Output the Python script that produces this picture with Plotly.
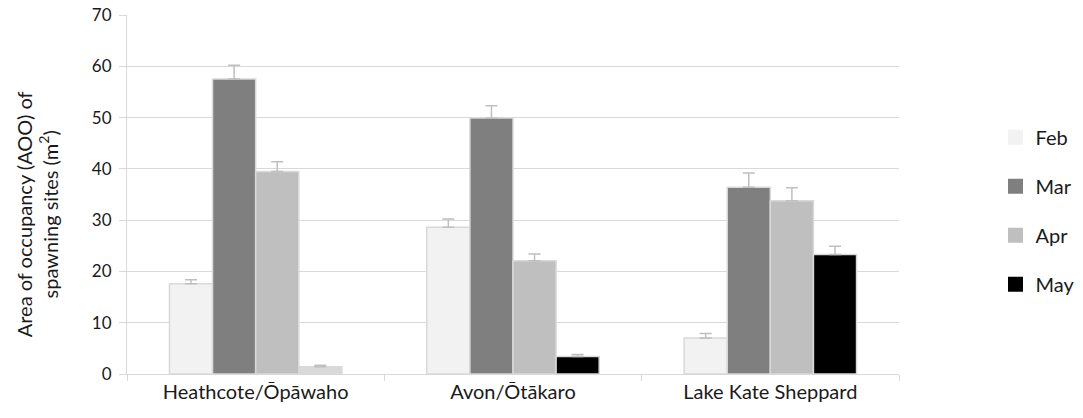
import plotly.graph_objects as go

# Sites and monthly area of occupancy of spawning sites (m²), with +SE
sites = ["Heathcote/Ōpāwaho", "Avon/Ōtākaro", "Lake Kate Sheppard"]
months = ["Feb", "Mar", "Apr", "May"]

feb = [17.6, 28.6, 7.0]
mar = [57.5, 49.9, 36.4]
apr = [39.5, 22.1, 33.8]
may = [1.4, 3.4, 23.3]

feb_err = [0.8, 1.6, 0.9]
mar_err = [2.7, 2.4, 2.8]
apr_err = [1.9, 1.3, 2.5]
may_err = [0.3, 0.4, 1.6]

y_ticks = [0, 10, 20, 30, 40, 50, 60, 70]

series = [feb, mar, apr, may]
errors = [feb_err, mar_err, apr_err, may_err]
legend_fills = ["#F2F2F2", "#7F7F7F", "#BFBFBF", "#000000"]
# the very short Heathcote May bar renders as its outline colour
bar_fills = ["#F2F2F2", "#7F7F7F", "#BFBFBF", ["#D9D9D9", "#000000", "#000000"]]

FONT = "Lato"
GRID = "#D9D9D9"
TEXT = "#1a1a1a"

fig = go.Figure()
for name, vals, errs, fill in zip(months, series, errors, bar_fills):
    fig.add_trace(go.Bar(
        x=sites, y=vals, name=name, legendgroup=name, showlegend=False,
        marker=dict(color=fill, line=dict(color=GRID, width=1.5)),
        error_y=dict(type="data", array=errs, arrayminus=[0] * len(errs),
                     symmetric=False, color="#BFBFBF", thickness=1.5, width=6),
    ))

# square legend keys, one per month
for name, lfill in zip(months, legend_fills):
    fig.add_trace(go.Scatter(
        x=[None], y=[None], name=name, legendgroup=name, showlegend=True,
        mode="markers",
        marker=dict(symbol="square", size=15, color=lfill, line=dict(width=0)),
    ))

fig.update_layout(
    width=1083, height=418,
    margin=dict(l=127, r=184, t=15, b=44, autoexpand=False),
    paper_bgcolor="white", plot_bgcolor="white",
    barmode="group", bargap=0.33, bargroupgap=0,
    font=dict(family=FONT, size=16, color=TEXT),
    legend=dict(x=1.125, xanchor="left", y=0.455, yanchor="middle",
                traceorder="grouped", tracegroupgap=20,
                font=dict(family=FONT, size=20, color=TEXT),
                itemwidth=30),
    showlegend=True,
)

fig.update_xaxes(
    type="category", tickson="boundaries", ticks="outside", ticklen=6,
    tickcolor=GRID, showline=True, linecolor=GRID, linewidth=1,
    showgrid=False, tickfont=dict(size=20),
)
fig.update_yaxes(
    range=[0, 70], tickvals=y_ticks, ticks="outside", ticklen=7,
    tickcolor=GRID, showgrid=True, gridcolor=GRID, gridwidth=1,
    showline=True, linecolor=GRID, linewidth=1, zeroline=False,
    tickfont=dict(size=17), ticklabelstandoff=4,
)

fig.add_annotation(
    text="Area of occupancy (AOO) of<br>spawning sites (m<sup>2</sup>)",
    xref="paper", yref="paper", x=(37 - 127) / 772, y=0.445,
    xanchor="center", yanchor="middle", textangle=-90, showarrow=False,
    font=dict(family=FONT, size=20, color=TEXT),
)

fig.write_html("out.html")
